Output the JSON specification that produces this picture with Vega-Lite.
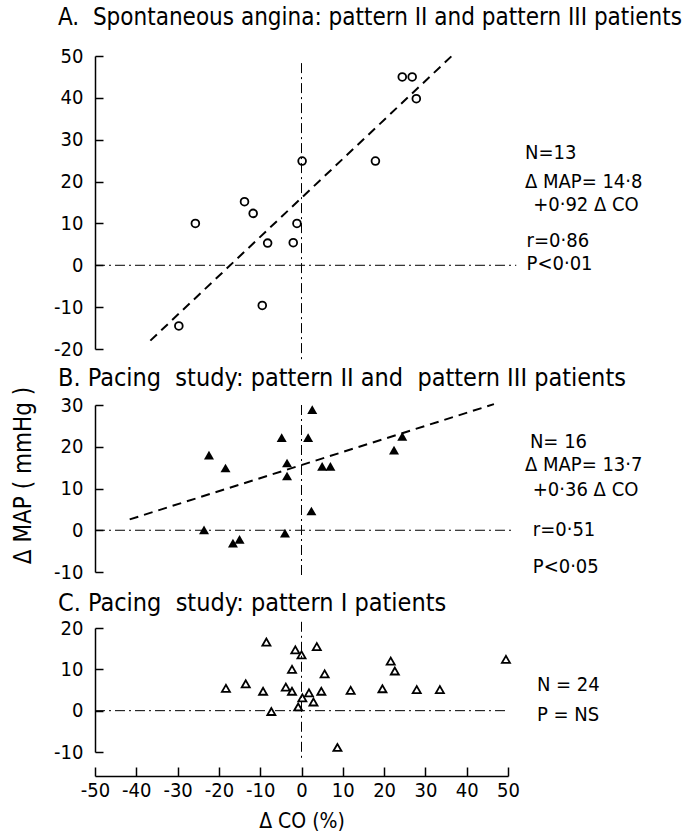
{
  "$schema": "https://vega.github.io/schema/vega-lite/v6.json",
  "padding": {"left": 11, "top": 6, "right": 0, "bottom": 0},
  "bounds": "flush",
  "spacing": 56,
  "resolve": {"scale": {"x": "independent", "y": "independent"}},
  "config": {
    "font": "DejaVu Sans Condensed, Liberation Sans Narrow, DejaVu Sans",
    "view": {"stroke": null},
    "axis": {
      "grid": false,
      "domainColor": "black",
      "domainWidth": 1.5,
      "tickColor": "black",
      "tickWidth": 1.5,
      "labelColor": "black",
      "labelFontSize": 20,
      "titleColor": "black",
      "titleFontWeight": "normal"
    },
    "title": {"fontSize": 24, "fontWeight": "normal", "color": "black", "anchor": "start", "frame": "group", "dx": -37},
    "text": {"fontSize": 20, "align": "left", "baseline": "middle", "color": "black"}
  },
  "datasets": {
    "ptsA": [
      {"dco": -29.7, "dmap": -14.5}, {"dco": -25.7, "dmap": 10.0}, {"dco": -13.8, "dmap": 15.2},
      {"dco": -11.7, "dmap": 12.4}, {"dco": -8.2, "dmap": 5.3}, {"dco": -9.5, "dmap": -9.6},
      {"dco": -2.0, "dmap": 5.4}, {"dco": -1.1, "dmap": 10.0}, {"dco": 0.15, "dmap": 24.9},
      {"dco": 17.9, "dmap": 24.9}, {"dco": 24.4, "dmap": 45.0}, {"dco": 26.8, "dmap": 45.0},
      {"dco": 27.8, "dmap": 39.8}
    ],
    "fitA": [{"dco": -36.6, "dmap": -18.0}, {"dco": 36.7, "dmap": 50.3}],
    "refA": [{"x1": -50, "x2": 52, "y1": 0, "y2": 0}, {"x1": 0, "x2": 0, "y1": 48.3, "y2": -22.5}],
    "txtA": [
      {"dco": 54.1, "dmap": 26.8, "label": "N=13"},
      {"dco": 54.1, "dmap": 19.9, "label": "Δ MAP= 14·8"},
      {"dco": 56.1, "dmap": 14.5, "label": "+0·92 Δ CO"},
      {"dco": 54.5, "dmap": 5.7, "label": "r=0·86"},
      {"dco": 54.5, "dmap": 0.3, "label": "P<0·01"}
    ],
    "ptsB": [
      {"dco": -23.6, "dmap": 0.1}, {"dco": -22.4, "dmap": 18.0}, {"dco": -18.4, "dmap": 14.9},
      {"dco": -16.6, "dmap": -3.1}, {"dco": -15.0, "dmap": -2.2}, {"dco": -4.8, "dmap": 22.2},
      {"dco": -3.5, "dmap": 16.1}, {"dco": -3.5, "dmap": 13.0}, {"dco": -4.0, "dmap": -0.7},
      {"dco": 1.6, "dmap": 22.2}, {"dco": 2.6, "dmap": 28.9}, {"dco": 2.4, "dmap": 4.6},
      {"dco": 5.0, "dmap": 15.3}, {"dco": 7.0, "dmap": 15.3}, {"dco": 22.4, "dmap": 19.2},
      {"dco": 24.4, "dmap": 22.5}
    ],
    "fitB": [{"dco": -41.6, "dmap": 2.6}, {"dco": 46.6, "dmap": 30.2}],
    "refB": [{"x1": -50, "x2": 51, "y1": 0, "y2": 0}, {"x1": 0, "x2": 0, "y1": 30, "y2": -11.3}],
    "txtB": [
      {"dco": 55.3, "dmap": 21.1, "label": "N= 16"},
      {"dco": 54.1, "dmap": 15.6, "label": "Δ MAP= 13·7"},
      {"dco": 56.0, "dmap": 9.7, "label": "+0·36  Δ CO"},
      {"dco": 56.0, "dmap": 0.1, "label": "r=0·51"},
      {"dco": 56.0, "dmap": -8.7, "label": "P<0·05"}
    ],
    "ptsC": [
      {"dco": -18.3, "dmap": 5.4}, {"dco": -13.5, "dmap": 6.5}, {"dco": -9.3, "dmap": 4.7},
      {"dco": -8.5, "dmap": 16.6}, {"dco": -7.3, "dmap": -0.2}, {"dco": -3.8, "dmap": 5.7},
      {"dco": -2.3, "dmap": 4.7}, {"dco": -2.3, "dmap": 10.0}, {"dco": -1.5, "dmap": 14.7},
      {"dco": 0.0, "dmap": 13.5}, {"dco": -0.8, "dmap": 0.9}, {"dco": 0.2, "dmap": 3.1},
      {"dco": 1.8, "dmap": 4.3}, {"dco": 2.9, "dmap": 2.1}, {"dco": 3.7, "dmap": 15.5},
      {"dco": 4.8, "dmap": 4.7}, {"dco": 5.6, "dmap": 8.9}, {"dco": 8.7, "dmap": -8.9},
      {"dco": 11.9, "dmap": 4.9}, {"dco": 19.6, "dmap": 5.3}, {"dco": 21.6, "dmap": 12.0},
      {"dco": 22.6, "dmap": 9.6}, {"dco": 27.9, "dmap": 5.1}, {"dco": 33.5, "dmap": 5.1},
      {"dco": 49.5, "dmap": 12.4}
    ],
    "refC": [{"x1": -50, "x2": 50, "y1": 0, "y2": 0}, {"x1": 0, "x2": 0, "y1": 21.5, "y2": -11.5}],
    "txtC": [
      {"dco": 57.0, "dmap": 6.2, "label": "N = 24"},
      {"dco": 57.0, "dmap": -1.0, "label": "P = NS"}
    ]
  },
  "vconcat": [
    {
      "width": 413,
      "height": 293,
      "title": {"text": "A.\u00a0 Spontaneous angina: pattern II and pattern III patients", "offset": 16},
      "layer": [
        {
          "data": {"name": "refA"},
          "mark": {"type": "rule", "color": "black", "strokeWidth": 1, "strokeDash": [10, 4, 2, 4]},
          "encoding": {
            "x": {"field": "x1", "type": "quantitative", "scale": {"domain": [-50, 50], "nice": false}, "axis": null},
            "x2": {"field": "x2"},
            "y": {
              "field": "y1", "type": "quantitative",
              "scale": {"domain": [-20, 50], "nice": false, "zero": false},
              "axis": {"values": [-20, -10, 0, 10, 20, 30, 40, 50], "tickSize": -8, "labelPadding": 20, "title": null, "labelExpr": "'' + datum.value"}
            },
            "y2": {"field": "y2"}
          }
        },
        {
          "data": {"name": "fitA"},
          "mark": {"type": "line", "color": "black", "strokeWidth": 2, "strokeDash": [9, 6]},
          "encoding": {
            "x": {"field": "dco", "type": "quantitative"},
            "y": {"field": "dmap", "type": "quantitative"}
          }
        },
        {
          "data": {"name": "ptsA"},
          "mark": {"type": "point", "shape": "circle", "filled": false, "color": "black", "strokeWidth": 1.8, "size": 60, "opacity": 1},
          "encoding": {
            "x": {"field": "dco", "type": "quantitative"},
            "y": {"field": "dmap", "type": "quantitative"}
          }
        },
        {
          "data": {"name": "txtA"},
          "mark": {"type": "text"},
          "encoding": {
            "x": {"field": "dco", "type": "quantitative"},
            "y": {"field": "dmap", "type": "quantitative"},
            "text": {"field": "label"}
          }
        }
      ]
    },
    {
      "width": 413,
      "height": 167,
      "title": {"text": "B. Pacing\u00a0 study: pattern II and\u00a0 pattern III patients", "offset": -5, "fontSize": 25},
      "layer": [
        {
          "data": {"name": "refB"},
          "mark": {"type": "rule", "color": "black", "strokeWidth": 1, "strokeDash": [10, 4, 2, 4]},
          "encoding": {
            "x": {"field": "x1", "type": "quantitative", "scale": {"domain": [-50, 50], "nice": false}, "axis": null},
            "x2": {"field": "x2"},
            "y": {
              "field": "y1", "type": "quantitative",
              "scale": {"domain": [-10, 30], "nice": false, "zero": false},
              "axis": {
                "values": [-10, 0, 10, 20, 30], "tickSize": -8, "labelPadding": 20, "labelExpr": "'' + datum.value",
                "title": "Δ MAP ( mmHg )", "titleFontSize": 24, "titleX": -72, "titleY": 70,
                "titleAngle": -90, "titleAlign": "center", "titleBaseline": "middle"
              }
            },
            "y2": {"field": "y2"}
          }
        },
        {
          "data": {"name": "fitB"},
          "mark": {"type": "line", "color": "black", "strokeWidth": 2, "strokeDash": [9, 6]},
          "encoding": {
            "x": {"field": "dco", "type": "quantitative"},
            "y": {"field": "dmap", "type": "quantitative"}
          }
        },
        {
          "data": {"name": "ptsB"},
          "mark": {"type": "point", "shape": "triangle-up", "filled": true, "color": "black", "size": 100, "opacity": 1},
          "encoding": {
            "x": {"field": "dco", "type": "quantitative"},
            "y": {"field": "dmap", "type": "quantitative"}
          }
        },
        {
          "data": {"name": "txtB"},
          "mark": {"type": "text"},
          "encoding": {
            "x": {"field": "dco", "type": "quantitative"},
            "y": {"field": "dmap", "type": "quantitative"},
            "text": {"field": "label"}
          }
        }
      ]
    },
    {
      "width": 413,
      "height": 124,
      "title": {"text": "C. Pacing\u00a0 study: pattern I patients", "offset": 2, "fontSize": 25},
      "layer": [
        {
          "data": {"name": "refC"},
          "mark": {"type": "rule", "color": "black", "strokeWidth": 1, "strokeDash": [10, 4, 2, 4]},
          "encoding": {
            "x": {
              "field": "x1", "type": "quantitative",
              "scale": {"domain": [-50, 50], "nice": false},
              "axis": {
                "orient": "bottom", "offset": 24, "values": [-50, -40, -30, -20, -10, 0, 10, 20, 30, 40, 50],
                "tickSize": -9, "labelPadding": 13, "labelFlush": false, "labelFontSize": 20, "labelExpr": "'' + datum.value",
                "title": "Δ CO (%)", "titleFontSize": 21, "titleY": 45, "titleBaseline": "middle"
              }
            },
            "x2": {"field": "x2"},
            "y": {
              "field": "y1", "type": "quantitative",
              "scale": {"domain": [-10, 20], "nice": false, "zero": false},
              "axis": {"values": [-10, 0, 10, 20], "tickSize": -8, "labelPadding": 20, "title": null, "labelExpr": "'' + datum.value"}
            },
            "y2": {"field": "y2"}
          }
        },
        {
          "data": {"name": "ptsC"},
          "mark": {"type": "point", "shape": "triangle-up", "filled": false, "color": "black", "strokeWidth": 1.8, "size": 65, "opacity": 1},
          "encoding": {
            "x": {"field": "dco", "type": "quantitative"},
            "y": {"field": "dmap", "type": "quantitative"}
          }
        },
        {
          "data": {"name": "txtC"},
          "mark": {"type": "text"},
          "encoding": {
            "x": {"field": "dco", "type": "quantitative"},
            "y": {"field": "dmap", "type": "quantitative"},
            "text": {"field": "label"}
          }
        }
      ]
    }
  ]
}
